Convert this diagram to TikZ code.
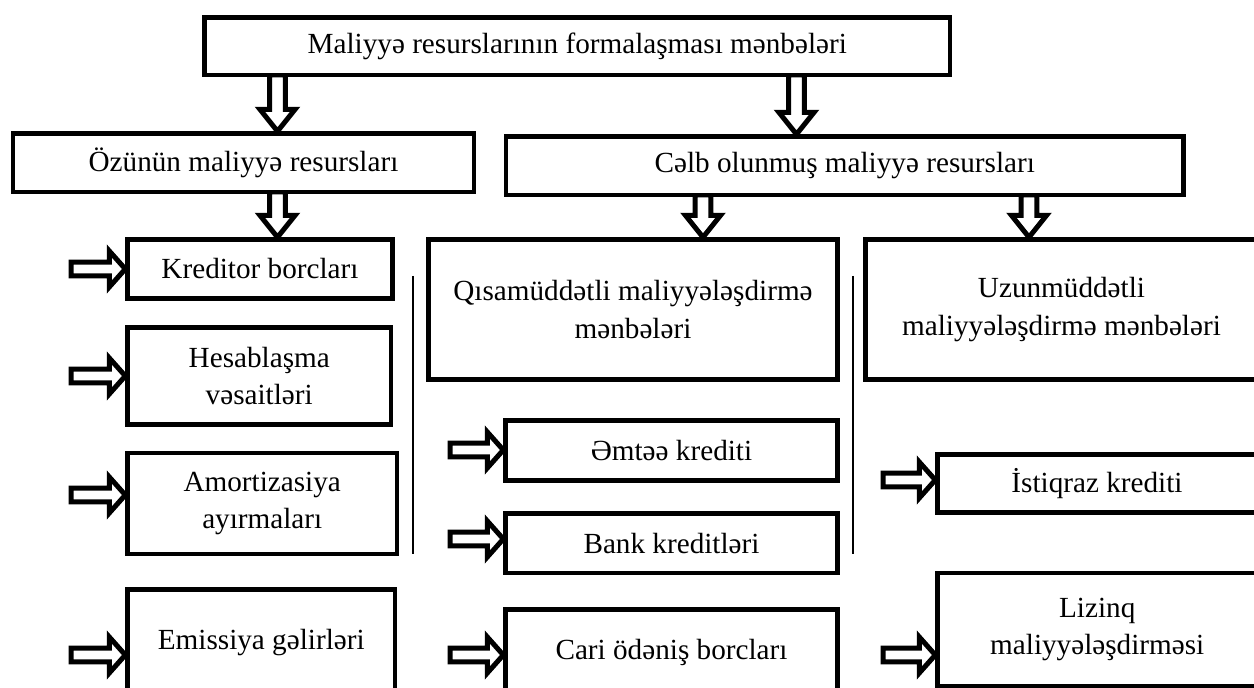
\documentclass[tikz,border=0pt]{standalone}
\usepackage{fontspec}
\setmainfont{Liberation Serif}
\usetikzlibrary{calc,backgrounds}

\tikzset{
  box/.style={draw, line width=2.2pt, fill=white, align=center, inner sep=0pt,
    font=\fontsize{14.6}{18.75}\selectfont},
  blk/.style={draw, line width=2.5pt, fill=white, line join=miter},
  sep/.style={line width=0.9pt}
}

\begin{document}
\begin{tikzpicture}[x=0.5pt, y=-0.5pt]

  \useasboundingbox (0,0) rectangle (1254,688);
  \clip (0,0) rectangle (1254,688);

  % hollow block arrows: tail coordinate, tip on a box side
  \newcommand\blkdown[2]{%
    \draw[blk] let \p1=(#1), \p2=(#2) in
    (\x1-3.9pt,\y1) -- (\x1-3.9pt,\y2+11pt) -- (\x1-8.8pt,\y2+11pt) -- (\x1,\y2)
    -- (\x1+8.8pt,\y2+11pt) -- (\x1+3.9pt,\y2+11pt) -- (\x1+3.9pt,\y1) -- cycle;}
  \newcommand\blkright[2]{%
    \draw[blk] let \p1=(#1), \p2=(#2) in
    (\x1,\y1+3.4pt) -- (\x2-8pt,\y1+3.4pt) -- (\x2-8pt,\y1+9pt) -- (\x2,\y1)
    -- (\x2-8pt,\y1-9pt) -- (\x2-8pt,\y1-3.4pt) -- (\x1,\y1-3.4pt) -- cycle;}

  %% top level
  \node[box, minimum width=372.75pt, minimum height=28.75pt] (top) at (577.25,46.25)
  {Maliyyə resurslarının formalaşması mənbələri};
  \node[box, minimum width=230.5pt, minimum height=29.25pt] (own) at (243.5,162.75)
  {Özünün maliyyə resursları};
  \node[box, minimum width=338.75pt, minimum height=29.25pt] (attr) at (844.75,165.75)
  {Cəlb olunmuş maliyyə resursları};

  %% left column
  \node[box, minimum width=132.5pt, minimum height=29.5pt] (kred) at (260,269)
  {Kreditor borcları};
  \node[box, minimum width=131.75pt, minimum height=48.5pt] (hesab) at (259.25,376)
  {Hesablaşma\\vəsaitləri};
  \node[box, minimum width=134.75pt, minimum height=50.5pt] (amort) at (262.25,503.5)
  {Amortizasiya\\ayırmaları};
  \node[box, minimum width=133.75pt, minimum height=52.75pt] (emis) at (261.25,642.25)
  {Emissiya gəlirləri};

  %% middle column
  \node[box, minimum width=204.5pt, minimum height=70pt] (qisa) at (633,309.5)
  {Qısamüddətli maliyyələşdirmə\\mənbələri};
  \node[box, minimum width=166pt, minimum height=30pt] (emte) at (671.5,450.5)
  {Əmtəə krediti};
  \node[box, minimum width=166pt, minimum height=29.75pt] (bank) at (671.5,543.25)
  {Bank kreditləri};
  \node[box, minimum width=166pt, minimum height=42.75pt] (cari) at (671.5,652.25)
  {Cari ödəniş borcları};

  %% right column
  \node[box, minimum width=196pt, minimum height=70pt] (uzun) at (1061.5,309.5)
  {Uzunmüddətli\\maliyyələşdirmə mənbələri};
  \node[box, minimum width=159.5pt, minimum height=29pt] (istiq) at (1097,483.5)
  {İstiqraz krediti};
  \node[box, minimum width=159.75pt, minimum height=56.5pt] (lizinq) at (1097.25,629.5)
  {Lizinq\\maliyyələşdirməsi};

  %% arrow tails
  \coordinate (d1) at (277.5,75);
  \coordinate (d2) at (796.5,75);
  \coordinate (d3) at (277.5,192);
  \coordinate (d4) at (703,195);
  \coordinate (d5) at (1029,195);

  \coordinate (r1) at (71,269);
  \coordinate (r2) at (71,376);
  \coordinate (r3) at (71,495);
  \coordinate (r4) at (71,655);
  \coordinate (r5) at (450,450);
  \coordinate (r6) at (450,539);
  \coordinate (r7) at (450,655);
  \coordinate (r8) at (883,480);
  \coordinate (r9) at (883,655);

  \begin{scope}[on background layer]
    \blkdown{d1}{d1 |- own.north}
    \blkdown{d2}{d2 |- attr.north}
    \blkdown{d3}{d3 |- kred.north}
    \blkdown{d4}{d4 |- qisa.north}
    \blkdown{d5}{d5 |- uzun.north}

    \blkright{r1}{r1 -| kred.west}
    \blkright{r2}{r2 -| hesab.west}
    \blkright{r3}{r3 -| amort.west}
    \blkright{r4}{r4 -| emis.west}
    \blkright{r5}{r5 -| emte.west}
    \blkright{r6}{r6 -| bank.west}
    \blkright{r7}{r7 -| cari.west}
    \blkright{r8}{r8 -| istiq.west}
    \blkright{r9}{r9 -| lizinq.west}
  \end{scope}

  %% separators
  \draw[sep] (413,276) -- (413,554);
  \draw[sep] (853,276) -- (853,554);

\end{tikzpicture}
\end{document}
